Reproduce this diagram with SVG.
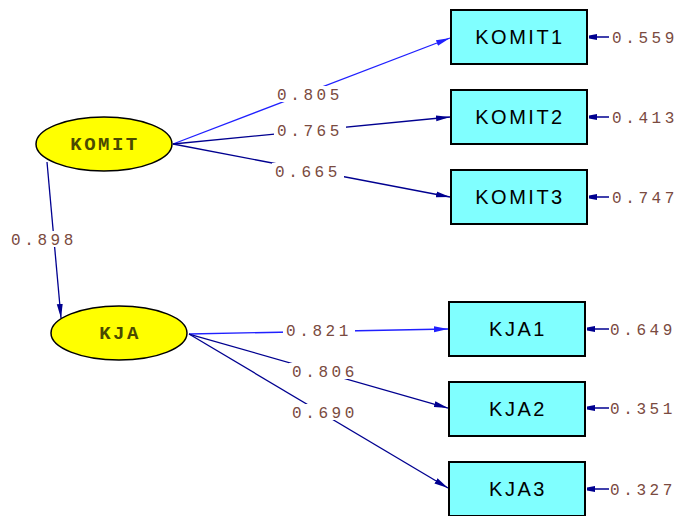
<svg xmlns="http://www.w3.org/2000/svg" width="681" height="516" viewBox="0 0 681 516">
<style>
.lat{fill:#ffff00;stroke:#000;stroke-width:1.5}
.latt{font-family:"Liberation Mono",monospace;font-weight:bold;font-size:19px;fill:#4a4a00;text-anchor:middle;letter-spacing:2.5px}
.box{fill:#80ffff;stroke:#000;stroke-width:2}
.boxt{font-family:"Liberation Sans",Arial,sans-serif;font-size:20px;fill:#000;text-anchor:middle;letter-spacing:2.5px}
.num{font-family:"Liberation Mono",monospace;font-size:16px;fill:#7a4a40;letter-spacing:3.6px}
.blue{stroke:#2020ff;stroke-width:1.3;fill:none}
.navy{stroke:#000090;stroke-width:1.3;fill:none}
.err{stroke:#000090;stroke-width:1.5;fill:none}
.bg{fill:#fff}
</style>
<defs>
<marker id="ab" markerWidth="14" markerHeight="8" refX="14" refY="4" orient="auto" markerUnits="userSpaceOnUse"><path d="M0,1 L14,4 L0,7 Z" fill="#2020ff"/></marker>
<marker id="an" markerWidth="14" markerHeight="8" refX="14" refY="4" orient="auto" markerUnits="userSpaceOnUse"><path d="M0,1 L14,4 L0,7 Z" fill="#000090"/></marker>
<marker id="ae" markerWidth="8" markerHeight="6" refX="8" refY="3" orient="auto" markerUnits="userSpaceOnUse"><path d="M0,0 L8,1.5 L8,4.5 L0,6 Z" fill="#000090"/></marker>
</defs>
<rect width="681" height="516" fill="#fff"/>
<g id="connectors">
<line class="blue" x1="173" y1="144" x2="450" y2="38" marker-end="url(#ab)"/>
<line class="navy" x1="173" y1="144" x2="450" y2="117" marker-end="url(#an)"/>
<line class="navy" x1="173" y1="144" x2="450" y2="197" marker-end="url(#an)"/>
<line class="navy" x1="47" y1="162" x2="61" y2="318" marker-end="url(#an)"/>
<line class="blue" x1="189" y1="334" x2="448" y2="329" marker-end="url(#ab)"/>
<line class="navy" x1="189" y1="334" x2="448" y2="408" marker-end="url(#an)"/>
<line class="navy" x1="189" y1="334" x2="448" y2="488" marker-end="url(#an)"/>
<line class="err" x1="609" y1="37" x2="589" y2="37" marker-end="url(#ae)"/>
<line class="err" x1="609" y1="117" x2="589" y2="117" marker-end="url(#ae)"/>
<line class="err" x1="609" y1="197" x2="589" y2="197" marker-end="url(#ae)"/>
<line class="err" x1="609" y1="329" x2="587" y2="329" marker-end="url(#ae)"/>
<line class="err" x1="609" y1="408" x2="587" y2="408" marker-end="url(#ae)"/>
<line class="err" x1="609" y1="489" x2="587" y2="489" marker-end="url(#ae)"/>
<rect class="bg" x="274" y="86" width="72" height="16"/>
<rect class="bg" x="274" y="122" width="72" height="16"/>
<rect class="bg" x="272" y="163" width="72" height="16"/>
<rect class="bg" x="8" y="231" width="72" height="16"/>
<rect class="bg" x="283" y="322" width="72" height="16"/>
<rect class="bg" x="289" y="363" width="72" height="16"/>
<rect class="bg" x="289" y="404" width="72" height="16"/>
<text class="num" x="277" y="100">0.805</text>
<text class="num" x="277" y="136">0.765</text>
<text class="num" x="275" y="177">0.665</text>
<text class="num" x="11" y="245">0.898</text>
<text class="num" x="286" y="336">0.821</text>
<text class="num" x="292" y="377">0.806</text>
<text class="num" x="292" y="418">0.690</text>
<text class="num" x="612" y="43">0.559</text>
<text class="num" x="612" y="123">0.413</text>
<text class="num" x="612" y="203">0.747</text>
<text class="num" x="610" y="335">0.649</text>
<text class="num" x="610" y="414">0.351</text>
<text class="num" x="610" y="495">0.327</text>
</g>
<g id="KOMIT"><ellipse class="lat" cx="104" cy="144" rx="68" ry="27"/><text class="latt" x="105" y="150">KOMIT</text></g>
<g id="KJA"><ellipse class="lat" cx="119" cy="333" rx="68" ry="27"/><text class="latt" x="120" y="339">KJA</text></g>
<g id="KOMIT1"><rect class="box" x="451" y="10" width="136" height="54"/><text class="boxt" x="520" y="44">KOMIT1</text></g>
<g id="KOMIT2"><rect class="box" x="451" y="90" width="136" height="54"/><text class="boxt" x="520" y="124">KOMIT2</text></g>
<g id="KOMIT3"><rect class="box" x="451" y="170" width="136" height="54"/><text class="boxt" x="520" y="204">KOMIT3</text></g>
<g id="KJA1"><rect class="box" x="449" y="302" width="136" height="54"/><text class="boxt" x="518" y="336">KJA1</text></g>
<g id="KJA2"><rect class="box" x="449" y="382" width="136" height="54"/><text class="boxt" x="518" y="416">KJA2</text></g>
<g id="KJA3"><rect class="box" x="449" y="462" width="136" height="54"/><text class="boxt" x="518" y="496">KJA3</text></g>
</svg>
